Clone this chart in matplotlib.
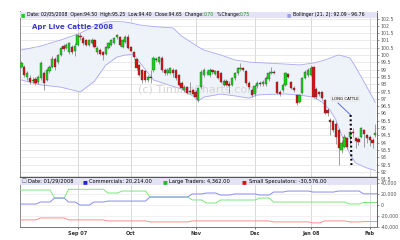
import matplotlib
matplotlib.use("Agg")
import matplotlib.pyplot as plt
import numpy as np
from matplotlib.patches import Rectangle
from matplotlib.ticker import FuncFormatter

# Daily candles for Apr Live Cattle 2008, trading-day index 0 = 6 Aug 2007, 126 = 5 Feb 2008
OPENS = [
    99.18, 99.18, 98.50, 98.45, 98.20, 98.35, 98.15, 98.45, 98.75, 98.30,
    98.90, 99.15, 99.75, 99.50, 100.00, 100.65, 100.50, 100.20, 100.55, 100.30,
    100.70, 101.30, 101.15, 101.03, 100.70, 100.85, 101.00, 100.20, 100.35, 100.20,
    100.10, 100.50, 100.70, 100.85, 101.25, 101.20, 100.55, 100.90, 101.20, 100.55,
    100.20, 99.70, 99.30, 98.95, 98.90, 98.30, 98.50, 98.95, 99.70, 99.50,
    99.80, 99.00, 98.80, 98.80, 99.00, 98.95, 98.60, 98.10, 97.60, 97.80,
    97.55, 97.60, 97.50, 96.95, 97.80, 98.60, 98.80, 98.60, 98.95, 98.70,
    98.90, 98.75, 97.95, 98.25, 98.00, 97.95, 98.40, 98.75, 99.05, 99.10,
    98.90, 98.10, 97.60, 97.30, 97.85, 98.05, 98.00, 98.00, 98.35, 98.80,
    98.85, 98.15, 97.50, 97.60, 97.95, 98.70, 98.15, 97.75, 97.25, 96.80,
    97.40, 98.45, 98.60, 98.65, 99.20, 97.70, 97.45, 97.45, 96.90, 96.20,
    95.55, 95.50, 95.30, 94.85, 93.50, 93.70, 94.30, 94.40, 94.70, 94.30,
    94.25, 94.40, 94.85, 94.50, 94.40, 94.15, 94.50,
]
HIGHS = [
    99.60, 99.30, 98.90, 98.60, 98.50, 98.50, 98.60, 99.60, 98.90, 99.10,
    99.30, 99.90, 99.85, 100.10, 100.55, 100.75, 100.80, 100.90, 100.70, 100.80,
    101.45, 101.50, 101.30, 101.10, 101.10, 101.15, 101.10, 100.60, 100.45, 100.30,
    100.65, 100.90, 101.10, 101.25, 101.45, 101.30, 101.10, 101.40, 101.45, 100.65,
    100.30, 99.80, 99.40, 99.05, 99.00, 98.60, 99.00, 99.90, 99.85, 99.95,
    99.90, 99.10, 99.10, 99.20, 99.10, 99.05, 98.70, 98.20, 97.95, 97.90,
    98.15, 97.70, 97.60, 97.80, 98.95, 99.10, 99.00, 99.10, 99.05, 99.00,
    99.00, 98.85, 98.35, 98.35, 98.20, 98.50, 98.85, 99.20, 99.45, 99.20,
    99.00, 98.20, 97.70, 98.00, 98.20, 98.20, 98.30, 98.55, 98.90, 99.20,
    99.00, 98.25, 97.60, 98.05, 98.85, 98.80, 98.25, 97.90, 97.35, 97.35,
    98.50, 98.95, 99.10, 99.30, 99.25, 97.80, 97.55, 97.55, 97.00, 96.35,
    95.70, 95.60, 95.40, 95.00, 94.20, 94.60, 94.40, 94.85, 95.00, 94.40,
    94.35, 95.10, 94.95, 94.60, 94.50, 94.30, 95.25,
]
LOWS = [
    99.10, 98.50, 98.30, 98.00, 98.05, 97.95, 98.00, 98.30, 97.60, 98.20,
    98.80, 99.10, 98.95, 99.40, 99.90, 100.30, 100.40, 100.10, 100.10, 99.95,
    100.60, 101.00, 100.70, 100.60, 100.60, 100.75, 100.45, 100.10, 100.00, 99.65,
    100.00, 100.40, 100.60, 100.75, 101.10, 100.60, 100.45, 100.80, 100.40, 100.20,
    99.75, 99.00, 98.55, 98.10, 98.15, 98.15, 98.05, 98.85, 99.50, 99.40,
    98.85, 98.60, 98.65, 98.70, 98.50, 98.30, 97.85, 97.65, 97.50, 97.30,
    97.35, 97.25, 97.00, 96.80, 97.70, 98.50, 98.60, 98.50, 98.70, 98.60,
    98.35, 98.05, 97.85, 97.85, 97.40, 97.85, 98.30, 98.65, 98.90, 98.90,
    97.95, 97.70, 97.10, 97.20, 97.75, 97.90, 97.90, 97.90, 98.25, 98.70,
    98.70, 97.30, 97.20, 97.50, 97.85, 98.40, 97.65, 97.50, 96.60, 96.70,
    97.30, 98.35, 98.50, 98.55, 97.05, 97.00, 97.20, 96.95, 95.95, 95.80,
    94.50, 94.75, 93.90, 92.50, 93.30, 93.60, 93.55, 93.90, 94.40, 93.60,
    93.85, 94.30, 93.70, 94.00, 93.80, 93.60, 94.40,
]
CLOSES = [
    99.45, 98.63, 98.75, 98.15, 98.30, 98.10, 98.50, 99.45, 98.10, 98.95,
    99.20, 99.75, 99.20, 100.00, 100.45, 100.40, 100.70, 100.80, 100.20, 100.65,
    101.35, 101.20, 100.85, 100.68, 101.00, 101.05, 100.55, 100.45, 100.10, 100.00,
    100.55, 100.80, 101.00, 101.15, 101.35, 100.70, 101.00, 101.20, 100.50, 100.30,
    99.85, 99.10, 98.65, 98.30, 98.30, 98.50, 98.45, 99.80, 99.65, 99.85,
    98.95, 98.75, 99.00, 99.10, 98.80, 98.40, 97.95, 97.75, 97.80, 97.40,
    97.45, 97.35, 97.10, 97.75, 98.85, 99.00, 98.75, 99.00, 98.85, 98.90,
    98.45, 98.15, 98.25, 97.95, 97.90, 98.45, 98.75, 99.10, 99.10, 99.00,
    98.05, 97.80, 97.25, 97.90, 98.10, 98.00, 98.15, 98.45, 98.80, 98.85,
    98.80, 97.40, 97.35, 97.95, 98.75, 98.50, 97.75, 97.60, 96.70, 97.25,
    98.40, 98.85, 99.00, 99.10, 97.15, 97.10, 97.35, 97.05, 96.05, 96.05,
    95.40, 94.85, 94.40, 93.60, 94.00, 94.35, 93.70, 94.75, 94.65, 94.10,
    94.05, 95.00, 94.60, 94.30, 94.15, 94.00, 94.65,
]

# Bollinger (21, 2) band read at selected trading days
BAND_IDX = [0, 7, 14, 21, 26, 30, 34, 37, 40, 42, 47, 54, 57, 61, 63, 65, 71,
            76, 81, 84, 87, 94, 99, 104, 107, 110, 112, 113, 116, 117, 119, 123, 126]
BAND_UPPER = [100.34, 100.62, 101.03, 101.50, 101.99, 102.26, 102.30, 102.26, 102.15,
              102.06, 101.95, 101.85, 101.30, 100.80, 100.55, 100.34, 100.00, 99.66,
              99.52, 99.48, 99.45, 99.38, 99.32, 99.45, 99.60, 99.79, 99.95, 100.00,
              99.85, 99.79, 99.18, 97.81, 96.76]
BAND_LOWER = [98.29, 97.95, 97.80, 97.47, 98.20, 99.30, 99.86, 100.00, 100.07, 99.52,
              98.29, 97.85, 97.67, 97.20, 96.85, 97.12, 97.33, 97.20, 97.05, 97.26,
              97.30, 97.33, 97.25, 97.12, 96.78, 96.20, 95.55, 95.00, 93.63, 93.20,
              92.60, 92.26, 92.09]

# Weekly commitments of traders (net positions), week starts as trading-day index
COT_WEEK_START = [0, 6, 11, 16, 20, 25, 30, 35, 40, 45, 50, 55, 60, 65, 70, 75, 79,
                  84, 89, 94, 98, 103, 107, 112, 116, 121]
COMMERCIALS = [1550, 5200, 12500, 5200, -300, 5200, 7000, 7000, 7000, 14400, 14400,
               14400, 19900, 21700, 18000, 19900, 19900, 18000, 23500, 25300, 25300,
               23500, 23500, 25300, 25300, 20214]
LARGE_TRADERS = [27200, 27200, 12500, 28500, 28500, 28500, 21700, 25300, 25300, 14400,
                 14400, 14400, 9000, 3400, 8900, 8900, 8900, 12500, 5200, 5200, 5200,
                 5200, 5200, 5200, 1550, 4362]
SMALL_SPECS = [-27500, -23900, -23900, -27500, -27500, -27500, -29400, -29400, -29400,
               -31200, -31200, -31200, -29400, -29400, -29400, -29400, -29400, -29400,
               -31200, -31200, -31200, -33000, -29400, -29400, -31200, -30576]

MONTH_START = [20, 39, 62, 83, 103, 124]
MONTH_LABELS = ["Sep 07", "Oct", "Nov", "Dec", "Jan 08", "Feb"]

UP_COLOR = "#17d417"
DOWN_COLOR = "#e01010"
BAND_LINE = "#a9a9f2"
BAND_FILL = "#eef2f9"
HEADER_BG = "#e3e3f5"
GRID = "#e2e2e2"


def ramp_line(starts, values, x_end):
    """Weekly values held flat with a short slope into each new week."""
    xs, ys = [-0.6], [values[0]]
    for k in range(1, len(values)):
        xs += [starts[k] - 0.8, starts[k] + 0.8]
        ys += [values[k - 1], values[k]]
    xs.append(x_end)
    ys.append(values[-1])
    return xs, ys


def chain_text(ax, pieces, x, y, size):
    """Write coloured pieces one after the other on one line."""
    first_text, first_color = pieces[0]
    prev = ax.text(x, y, first_text, color=first_color, fontsize=size, va="center",
                   ha="left", transform=ax.transAxes, zorder=7)
    for text, color in pieces[1:]:
        prev = ax.annotate(text, xy=(1, 0.5), xycoords=prev, va="center", ha="left",
                           color=color, fontsize=size, zorder=7)
    return prev


fig = plt.figure(figsize=(4, 2.4), dpi=100)
fig.patch.set_facecolor("white")
x_left, x_right = -0.5, 126.6

# ---------------- price panel ----------------
ax = fig.add_axes([0.05, 1 - 179.1 / 240, 0.8925, 167.6 / 240])
idx = np.arange(len(CLOSES))
o, h, l, c = map(np.array, (OPENS, HIGHS, LOWS, CLOSES))

ax.fill_between(BAND_IDX, BAND_LOWER, BAND_UPPER, color=BAND_FILL, lw=0, zorder=1)
ax.plot(BAND_IDX, BAND_UPPER, color=BAND_LINE, lw=0.6, zorder=2)
ax.plot(BAND_IDX, BAND_LOWER, color=BAND_LINE, lw=0.6, zorder=2)

ax.text(0.33, 0.53, "(c) TimingCharts.com", transform=ax.transAxes, fontsize=8,
        color="#d6d6d6", ha="left", va="center", zorder=2)

up = c >= o
ax.vlines(idx, l, h, color="#7a7a7a", lw=0.5, zorder=3)
ax.bar(idx, np.maximum(np.abs(c - o), 0.03), bottom=np.minimum(o, c), width=0.8,
       color=np.where(up, UP_COLOR, DOWN_COLOR), edgecolor="#3a3a3a", lw=0.25, zorder=4)

ax.set_xlim(x_left, x_right)
ax.set_ylim(91.5, 102.98)
ax.yaxis.tick_right()
ax.set_yticks(np.arange(91.5, 102.51, 0.5))
ax.yaxis.set_major_formatter(FuncFormatter(lambda v, _: f"{v:g}"))
ax.tick_params(axis="y", labelsize=3.4, length=1.5, width=0.4, pad=1, colors="#555555")
ax.set_xticks(MONTH_START)
ax.tick_params(axis="x", bottom=False, labelbottom=False)
ax.grid(axis="y", color=GRID, lw=0.5)
ax.grid(axis="x", color="#d2d2d2", lw=0.6)
ax.set_axisbelow(True)
for side, col in (("left", "#8a8a8a"), ("right", "#666666"), ("top", "#c8c8d8")):
    ax.spines[side].set_color(col)
    ax.spines[side].set_linewidth(0.7)
ax.spines["bottom"].set_visible(False)

ax.add_patch(Rectangle((0, 0.962), 1, 0.038, transform=ax.transAxes, color=HEADER_BG,
                       lw=0, zorder=6))
chain_text(ax, [("\u25a0 ", UP_COLOR),
                ("Date: 02/05/2008  Open:94.50  High:95.25  Low:94.40  "
                 "Close:94.65  Change:", "black"),
                ("0.70", "#119911"), ("  %Change:", "black"), ("0.75", "#119911")],
           0.003, 0.981, 3.35)
chain_text(ax, [("\u25a0 ", "#9e9ee8"), ("Bollinger (21, 2): 92.09 - 96.76", "black")],
           0.748, 0.981, 3.35)

ax.text(0.034, 0.907, "Apr Live Cattle 2008", transform=ax.transAxes, fontsize=5.0,
        color="#3c3cc8", fontweight="bold", ha="left", va="center", zorder=7)

# LONG CATTLE note, arrow and dotted marker
NOTE_XY = (115.2, 97.02)
ARROW_FROM, ARROW_TO = (112.7, 96.71), (117.2, 95.89)
DOT_TOP, DOT_BOTTOM = 95.89, 92.40
ax.text(*NOTE_XY, "LONG CATTLE", fontsize=2.8, ha="center", va="center", zorder=8,
        bbox=dict(boxstyle="square,pad=0.25", fc="#f6f6f6", ec="#cfcfcf", lw=0.3))
ax.plot([ARROW_FROM[0], ARROW_TO[0]], [ARROW_FROM[1], ARROW_TO[1]], color="#4a5fe0",
        lw=0.6, zorder=8)
ax.plot([ARROW_TO[0], ARROW_TO[0] + 0.3], [DOT_TOP, DOT_BOTTOM], color="black", lw=1.5,
        linestyle=(0, (0.9, 1.2)), zorder=8)

# ---------------- COT panel ----------------
ax2 = fig.add_axes([0.05, 1 - 227 / 240, 0.8925, 50 / 240])
for values, col in ((SMALL_SPECS, "#ff8c8c"), (LARGE_TRADERS, "#7be87b"),
                    (COMMERCIALS, "#8a8af5")):
    xs, ys = ramp_line(COT_WEEK_START, values, x_right)
    ax2.plot(xs, ys, color=col, lw=0.7, zorder=3)

ax2.set_xlim(x_left, x_right)
ax2.set_ylim(-40500, 51000)
ax2.yaxis.tick_right()
ax2.set_yticks([-40000, -20000, 0, 20000, 40000])
ax2.yaxis.set_major_formatter(FuncFormatter(lambda v, _: f"{v:,.0f}"))
ax2.tick_params(axis="y", labelsize=3.4, length=1.5, width=0.4, pad=1, colors="#555555")
ax2.set_xticks(MONTH_START)
ax2.set_xticklabels(MONTH_LABELS, fontsize=3.6, fontweight="bold", color="#333333")
ax2.tick_params(axis="x", length=1.5, width=0.4, pad=1.5)
ax2.grid(axis="x", color="#d2d2d2", lw=0.6)
ax2.grid(axis="y", color="#ececec", lw=0.5)
ax2.set_axisbelow(True)
ax2.spines["top"].set_color("#555555")
ax2.spines["top"].set_linewidth(1.0)
for side, col in (("left", "#8a8a8a"), ("right", "#666666"), ("bottom", "#777777")):
    ax2.spines[side].set_color(col)
    ax2.spines[side].set_linewidth(0.7)

ax2.add_patch(Rectangle((0, 0.85), 1, 0.13, transform=ax2.transAxes, color=HEADER_BG,
                        lw=0, zorder=6))
header_y = 0.915
for frac, marker, mcol, label in ((0.005, "\u25a1", "#555555", "Date: 01/29/2008"),
                                  (0.176, "\u25a0", "#2222dd", "Commercials: 20,214.00"),
                                  (0.400, "\u25a0", "#22bb22", "Large Traders: 4,362.00"),
                                  (0.622, "\u25a0", "#dd1111", "Small Speculators: -30,576.00")):
    chain_text(ax2, [(marker + " ", mcol), (label, "black")], frac, header_y, 3.7)

fig.savefig("out.png", dpi=100, facecolor="white")
